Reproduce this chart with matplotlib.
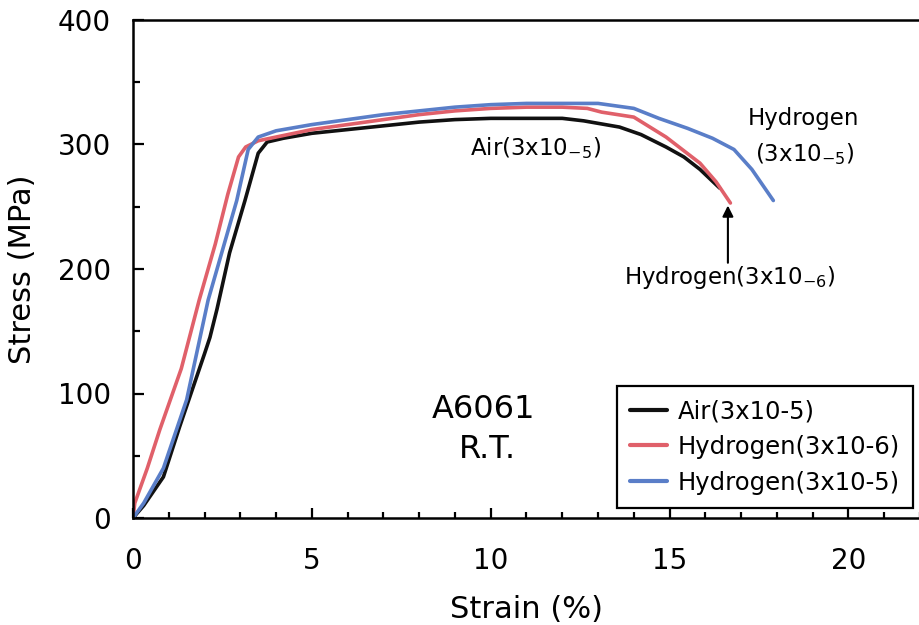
import matplotlib
matplotlib.use("Agg")
import matplotlib.pyplot as plt
from matplotlib.ticker import MultipleLocator

# ---- data ----
air_strain = [0, 0.3, 0.85, 1.3, 2.0, 2.15, 2.35, 2.7, 3.13, 3.5, 3.75, 4.2, 5, 6, 7, 8, 9, 10, 11, 12, 12.6, 13.6, 14.2, 14.9, 15.4, 15.85, 16.4]
air_stress = [0, 10, 33, 73, 132, 145, 168, 213, 255, 293, 302, 305, 309, 312, 315, 318, 320, 321, 321, 321, 319, 314, 308, 298, 290, 280, 265]

h6_strain = [0, 0.05, 0.4, 0.75, 1.35, 1.85, 2.3, 2.65, 2.95, 3.15, 3.5, 4, 5, 6, 7, 8, 9, 10, 11, 12, 12.7, 13.1, 14, 14.9, 15.85, 16.3, 16.7]
h6_stress = [0, 12, 40, 71, 120, 175, 220, 260, 290, 298, 303, 306, 312, 316, 320, 324, 327, 329, 330, 330, 329, 326, 322, 306, 285, 270, 253]

h5_strain = [0, 0.3, 0.85, 1.5, 2.1, 2.5, 2.9, 3.22, 3.5, 4, 5, 6, 7, 8, 9, 10, 11, 12, 13, 14, 14.7, 15.5, 16.2, 16.8, 17.3, 17.9]
h5_stress = [0, 12, 40, 95, 175, 215, 255, 296, 306, 311, 316, 320, 324, 327, 330, 332, 333, 333, 333, 329, 321, 313, 305, 296, 280, 255]

series_labels = ["Air(3x10-5)", "Hydrogen(3x10-6)", "Hydrogen(3x10-5)"]
series_colors = ["#111111", "#e0606a", "#5a7ec8"]

x_ticks = [0, 5, 10, 15, 20]
y_ticks = [0, 100, 200, 300, 400]

plt.rcParams['font.family'] = ['DejaVu Sans']
plt.rcParams['mathtext.default'] = 'regular'

fig = plt.figure(figsize=(9.2, 6.25), dpi=100)
ax = fig.add_axes([133/920, 1 - 518/625, 1 - 133/920, (518 - 20)/625])

for xs, ys, lab, col in zip([air_strain, h6_strain, h5_strain],
                            [air_stress, h6_stress, h5_stress],
                            series_labels, series_colors):
    ax.plot(xs, ys, color=col, lw=2.6, label=lab, solid_capstyle='round')

ax.set_xlim(0, 22)
ax.set_ylim(0, 400)
ax.set_xticks(x_ticks)
ax.set_yticks(y_ticks)
ax.xaxis.set_minor_locator(MultipleLocator(1))
ax.yaxis.set_minor_locator(MultipleLocator(50))
ax.tick_params(which='both', direction='in', width=1.6, colors='black')
ax.tick_params(axis='x', which='major', length=7, pad=21, labelsize=20)
ax.tick_params(axis='x', which='minor', length=4)
ax.tick_params(axis='y', which='major', length=8, pad=16, labelsize=20)
ax.tick_params(axis='y', which='minor', length=5)

for s in ['left', 'bottom', 'top']:
    ax.spines[s].set_linewidth(1.8)
ax.spines['right'].set_visible(False)

ax.set_xlabel("Strain (%)", fontsize=22)
ax.set_ylabel("Stress (MPa)", fontsize=22)
ax.xaxis.set_label_coords(0.5, -0.155)
ax.yaxis.set_label_coords(-0.122, 0.5)

# annotations
ax.text(9.42, 297, "Air(3x10$_{-5}$)", fontsize=16.5, ha='left', va='center')
ax.text(18.73, 321, "Hydrogen", fontsize=16.5, ha='center', va='center')
ax.text(18.78, 292, "(3x10$_{-5}$)", fontsize=16.5, ha='center', va='center')
ax.text(16.69, 193, "Hydrogen(3x10$_{-6}$)", fontsize=16.5, ha='center', va='center')
ax.annotate("", xy=(16.63, 251), xytext=(16.63, 205),
            arrowprops=dict(arrowstyle='-|>', color='black', lw=1.5,
                            mutation_scale=16, shrinkA=0, shrinkB=0))
ax.text(9.8, 87, "A6061", fontsize=23, ha='center', va='center')
ax.text(9.9, 55, "R.T.", fontsize=23, ha='center', va='center')

leg = ax.legend(loc='lower left', bbox_to_anchor=(0.615, 0.02), borderaxespad=0,
                fontsize=17.5, frameon=True, fancybox=False, framealpha=1,
                edgecolor='black', handlelength=1.5, handletextpad=0.45,
                labelspacing=0.48, borderpad=0.55)
leg.get_frame().set_linewidth(1.6)
for h in leg.get_lines():
    h.set_linewidth(3)

fig.savefig("out.png", dpi=100)
